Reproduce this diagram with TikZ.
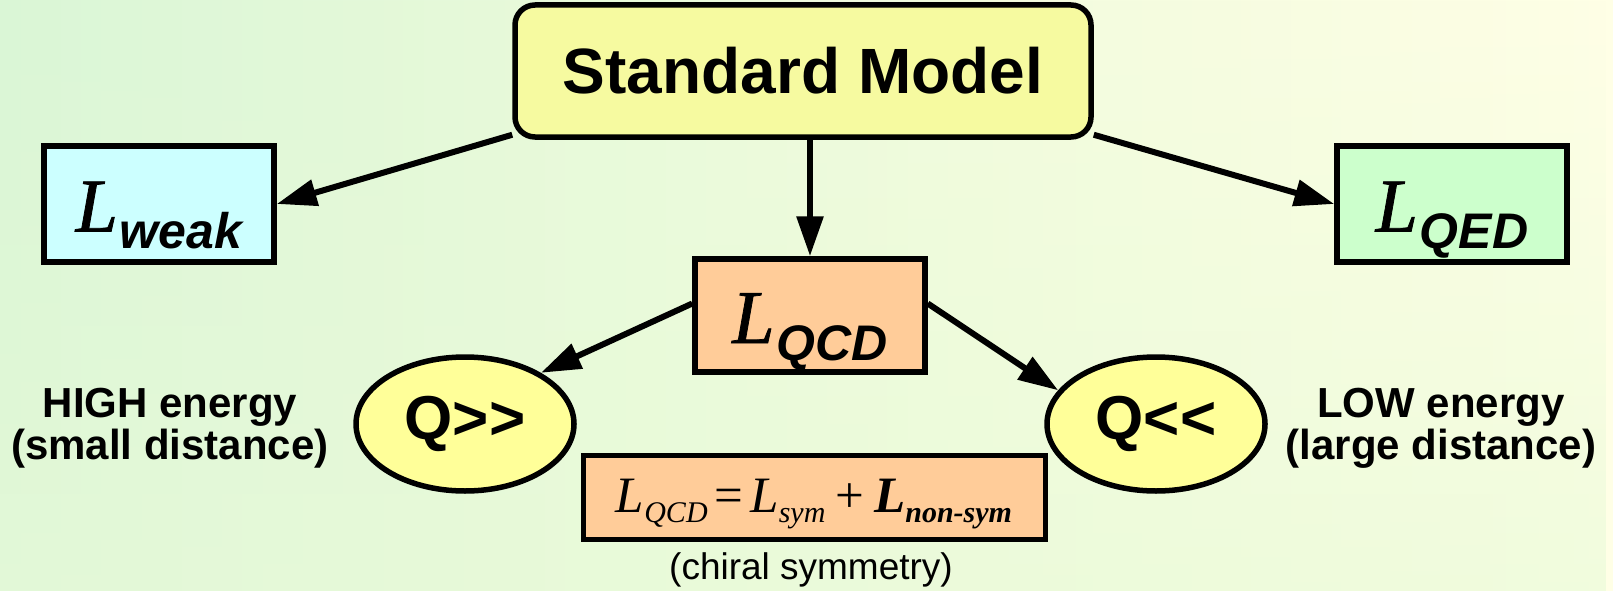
\documentclass[tikz,border=0pt]{standalone}
\usepackage{fontspec}
\setmainfont{Liberation Sans}
\newfontfamily\timesfont{Liberation Serif}
\usepackage{xcolor}
\usepackage{tikz}
\usetikzlibrary{positioning,shapes.geometric,arrows.meta,fadings}
\definecolor{bgleft}{RGB}{218,246,214}
\definecolor{bgmid}{RGB}{242,252,222}
\definecolor{bgright}{RGB}{255,255,230}
\definecolor{bgbottom}{RGB}{232,250,216}
\definecolor{smfill}{RGB}{246,250,160}
\definecolor{weakfill}{RGB}{204,255,255}
\definecolor{qedfill}{RGB}{204,255,204}
\definecolor{qcdfill}{RGB}{255,204,153}
\definecolor{qfill}{RGB}{255,255,153}
\pgfdeclarehorizontalshading{bgshade}{100bp}{color(0bp)=(bgleft); color(25bp)=(bgleft); color(55bp)=(bgmid); color(75bp)=(bgright); color(100bp)=(bgright)}
\pgfdeclarelayer{bg}
\pgfdeclarelayer{edges}
\pgfsetlayers{bg,edges,main}

% big italic L with a bold sans subscript
\newcommand\Lag[1]{{\timesfont\itshape\addfontfeatures{FakeBold=1}L}\kern2pt\raisebox{-17pt}{\fontsize{50}{50}\selectfont\bfseries\itshape #1}}
% formula pieces
\newcommand\Lsub[1]{L\raisebox{-10pt}{\fontsize{30}{30}\selectfont #1}}

\begin{document}
\begin{tikzpicture}[x=1pt,y=-1pt,
  lbox/.style={draw=black,line width=5.5pt,inner sep=0pt,font=\fontsize{76}{76}\selectfont,text height=55pt,text depth=0pt},
  qell/.style={ellipse,draw=black,line width=5.5pt,fill=qfill,inner sep=0pt,minimum width=218pt,minimum height=134pt,font=\fontsize{62}{62}\selectfont\bfseries},
  side/.style={align=center,font=\fontsize{42}{42}\selectfont\bfseries},
  arr/.style={-{Triangle[length=40pt,width=26pt]},line width=6pt,black}
]
\useasboundingbox (0,0) rectangle (1613,591);
\begin{pgfonlayer}{bg}
\shade[shading=bgshade] (0,0) rectangle (1613,591);
\fill[bgbottom,path fading=north,fill opacity=0.6] (0,0) rectangle (1613,591);
\end{pgfonlayer}

\node[draw=black,line width=5.5pt,fill=smfill,rounded corners=20pt,inner sep=0pt,minimum width=576pt,minimum height=132pt,font=\fontsize{64}{64}\selectfont\bfseries] (sm) at (803,71) {Standard Model};
\node[lbox,fill=weakfill,minimum width=230pt,minimum height=116pt] (weak) at (159,204) {\Lag{weak}};
\node[lbox,fill=qedfill,minimum width=230pt,minimum height=116pt] (qed) at (1452,204) {\Lag{QED}};
\node[lbox,fill=qcdfill,minimum width=230pt,minimum height=113pt] (qcd) at (810,315.5) {\Lag{QCD}};
\node[qell] (qhigh) at (465,424) {Q>\kern0pt>};
\node[qell] (qlow) at (1156,424) {Q<\kern0pt<};
\node[side] (high) at (170,428) {HIGH energy\\(small distance)};
\node[side] (low) at (1441,428) {LOW energy\\(large distance)};
\node[draw=black,line width=5pt,fill=qcdfill,inner sep=0pt,minimum width=462pt,minimum height=84pt,text height=30pt,text depth=0pt,font=\fontsize{51}{51}\selectfont\timesfont] (lagr) at (814,497)
  {\itshape\Lsub{QCD}\hspace{7pt}\upshape=\hspace{7pt}\itshape\Lsub{sym}\hspace{10pt}\upshape+\hspace{10pt}\bfseries\itshape\Lsub{non-sym}};
\node[anchor=base,font=\fontsize{37}{37}\selectfont] (chiral) at (811,579) {(chiral symmetry)};

\begin{pgfonlayer}{edges}
\draw[arr] ([yshift=5pt]sm.south west) -- (weak.east);
\draw[arr] ([yshift=5pt]sm.south east) -- (qed.west);
\draw[arr] (sm.south -| qcd.north) -- (qcd.north);
\draw[arr] ([yshift=12pt]qcd.west) -- (qhigh.34);
\draw[arr] ([yshift=12pt]qcd.east) -- (qlow.161);
\end{pgfonlayer}
\end{tikzpicture}
\end{document}
